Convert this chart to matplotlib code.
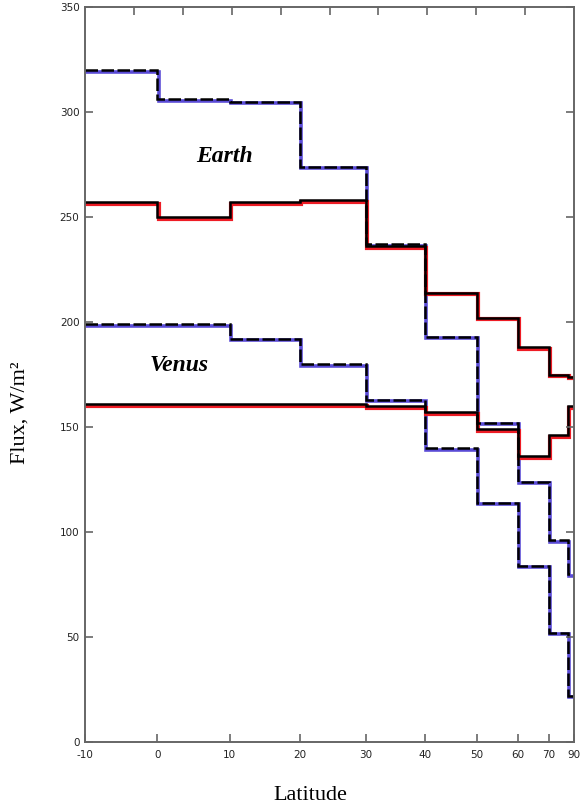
import matplotlib
matplotlib.use("Agg")
import matplotlib.pyplot as plt
import matplotlib.transforms as mtransforms
import numpy as np

# latitude band edges and fluxes (W/m^2)
edges = [-10, 0, 10, 20, 30, 40, 50, 60, 70, 80, 90]
earth_solar = [320, 306, 305, 274, 237, 193, 152, 124, 96, 80]
earth_ir = [257, 250, 257, 258, 236, 214, 202, 188, 175, 174]
venus_solar = [199, 199, 192, 180, 163, 140, 114, 84, 52, 22]
venus_ir = [161, 161, 161, 161, 160, 157, 149, 136, 146, 160]

xticks = [-10, 0, 10, 20, 30, 40, 50, 60, 70, 90]
top_ticks = [0, 10, 20, 30, 40, 50, 60, 70, 80]
yticks = [0, 50, 100, 150, 200, 250, 300, 350]

fig = plt.figure(figsize=(5.81, 8.10), dpi=100)
ax = fig.add_axes([85/581, 68/810, 489/581, 735/810])

fwd = lambda x: np.sin(np.radians(x))
inv = lambda y: np.degrees(np.arcsin(np.clip(y, -1, 1)))
ax.set_xscale('function', functions=(fwd, inv))
ax.set_xlim(-10, 90)
ax.set_ylim(0, 350)

# coloured trace sits a little below/right of the black one
shift = mtransforms.offset_copy(ax.transData, fig=fig, x=1.2, y=-1.6, units='dots')

blue = '#5a4bd6'
red = '#ee1c25'
ax.stairs(earth_solar, edges, baseline=None, color=blue, lw=2.6, transform=shift)
ax.stairs(venus_solar, edges, baseline=None, color=blue, lw=2.6, transform=shift)
ax.stairs(earth_ir, edges, baseline=None, color=red, lw=3.0, transform=shift)
ax.stairs(venus_ir, edges, baseline=None, color=red, lw=3.0, transform=shift)

ax.stairs(earth_solar, edges, baseline=None, color='black', lw=1.8, linestyle=(0, (5, 1.4)))
ax.stairs(venus_solar, edges, baseline=None, color='black', lw=1.8, linestyle=(0, (5, 1.4)))
ax.stairs(earth_ir, edges, baseline=None, color='black', lw=1.8)
ax.stairs(venus_ir, edges, baseline=None, color='black', lw=1.8)

ax.text(9.3, 279, 'Earth', family='Liberation Serif', style='italic', weight='bold',
        fontsize=17, ha='center', va='center')
ax.text(3, 179.5, 'Venus', family='Liberation Serif', style='italic', weight='bold',
        fontsize=17, ha='center', va='center')

for s in ax.spines.values():
    s.set_color('#666666')
    s.set_linewidth(1.4)

ax.set_xticks(xticks)
ax.set_xticklabels([str(t) for t in xticks])
ax.set_yticks(yticks)
ax.set_yticklabels([str(t) for t in yticks])
ax.tick_params(direction='in', length=6, width=1.2, color='#666666',
               labelsize=7.5, labelcolor='#222222', pad=4, right=True)
ax.xaxis.set_tick_params(pad=6)

top = ax.secondary_xaxis('top')
top.set_xticks(top_ticks)
top.set_xticklabels([])
top.tick_params(direction='in', length=6, width=1.2, color='#666666')
top.spines['top'].set_visible(False)

fig.text(20/581, 1 - 413/810, 'Flux, W/m²', family='Liberation Serif', fontsize=16,
         rotation=90, ha='center', va='center')
fig.text(310/581, 1 - 796/810, 'Latitude', family='Liberation Serif', fontsize=16,
         ha='center', va='center')

fig.savefig('out.png', dpi=100)
